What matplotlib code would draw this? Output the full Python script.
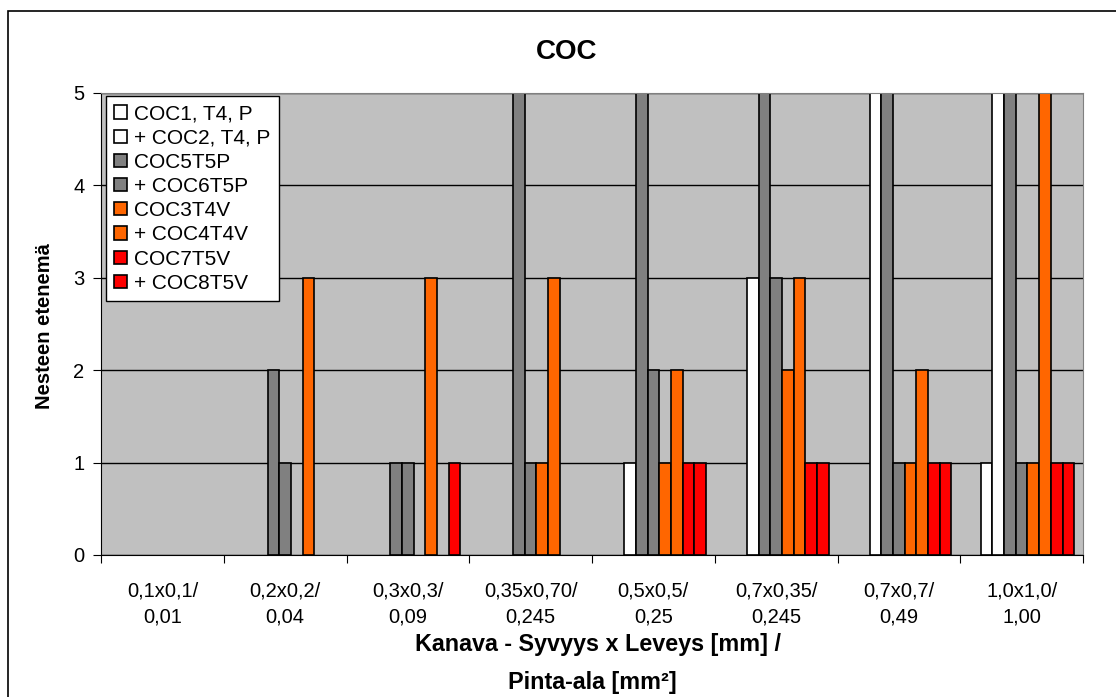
import numpy as np
import matplotlib.pyplot as plt
from matplotlib.patches import Rectangle

plt.rcParams['font.family'] = ['Liberation Sans', 'DejaVu Sans']

categories = ['0,1x0,1/\n0,01', '0,2x0,2/\n0,04', '0,3x0,3/\n0,09', '0,35x0,70/\n0,245',
              '0,5x0,5/\n0,25', '0,7x0,35/\n0,245', '0,7x0,7/\n0,49', '1,0x1,0/\n1,00']

names = ['COC1, T4, P', '+ COC2, T4, P', 'COC5T5P', '+ COC6T5P',
         'COC3T4V', '+ COC4T4V', 'COC7T5V', '+ COC8T5V']

coc1 = [0, 0, 0, 0, 0, 0, 0, 1]
coc2 = [0, 0, 0, 0, 1, 3, 5, 5]
coc5 = [0, 2, 1, 5, 5, 5, 5, 5]
coc6 = [0, 1, 1, 1, 2, 3, 1, 1]
coc3 = [0, 0, 0, 1, 1, 2, 1, 1]
coc4 = [0, 3, 3, 3, 2, 3, 2, 5]
coc7 = [0, 0, 0, 0, 1, 1, 1, 1]
coc8 = [0, 0, 1, 0, 1, 1, 1, 1]

series = [coc1, coc2, coc5, coc6, coc3, coc4, coc7, coc8]
colors = ['#FFFFFF', '#FFFFFF', '#808080', '#808080',
          '#FF6600', '#FF6600', '#FF0000', '#FF0000']

fig = plt.figure(figsize=(11.16, 6.97), dpi=100)
ax = fig.add_axes([101 / 1116, 1 - 555 / 697, 982 / 1116, 462 / 697])
ax.set_facecolor('#C0C0C0')

# nine slots per group (first one empty), gap of 150 %
slot = 1 / (9 + 1.5)
x = np.arange(len(categories))
for j, (vals, name, col) in enumerate(zip(series, names, colors)):
    vals = np.array(vals, dtype=float)
    keep = vals > 0
    pos = x - 0.5 + slot * (j + 2.25)
    ax.bar(pos[keep], vals[keep], width=slot, color=col, edgecolor='black',
           linewidth=1.2, label=name, zorder=2)

ax.set_xlim(-0.5, len(categories) - 0.5)
ax.set_ylim(0, 5)
ax.set_yticks(range(6))
ax.grid(axis='y', color='black', linewidth=1)
ax.set_axisbelow(True)

ax.set_xticks(np.arange(len(categories) + 1) - 0.5)
ax.set_xticklabels([])
ax.set_xticks(x, minor=True)
ax.set_xticklabels(categories, minor=True, fontsize=14.5, linespacing=1.5)
ax.tick_params(axis='x', which='major', direction='out', length=6, color='black')
ax.tick_params(axis='x', which='minor', length=0, pad=19)
ax.tick_params(axis='y', direction='out', length=6, labelsize=14.5, pad=6)

for s in ['top', 'right']:
    ax.spines[s].set_color('#808080')
for s in ['left', 'bottom']:
    ax.spines[s].set_color('black')

fig.text(567 / 1116, 1 - 52 / 697, 'COC', fontsize=20, fontweight='bold',
         ha='center', va='center')
fig.text(45 / 1116, 1 - 326 / 697, 'Nesteen etenemä', fontsize=14.5, fontweight='bold',
         rotation=90, ha='center', va='center')
fig.text(598 / 1116, 1 - 645 / 697, 'Kanava - Syvyys x Leveys [mm] /', fontsize=16.8,
         fontweight='bold', ha='center', va='center')
fig.text(592 / 1116, 1 - 682 / 697, 'Pinta-ala [mm²]', fontsize=16.8,
         fontweight='bold', ha='center', va='center')

leg = ax.legend(loc='upper left', bbox_to_anchor=(106 / 1116, 1 - 96 / 697),
                bbox_transform=fig.transFigure, borderaxespad=0, fontsize=15,
                fancybox=False, framealpha=1, edgecolor='black',
                handlelength=0.6, handleheight=0.6, handletextpad=0.35,
                labelspacing=0.25, borderpad=0.4)
leg.get_frame().set_linewidth(1)

fig.patches.append(Rectangle((8 / 1116, -0.1), 1.2, 1.1 - 11 / 697,
                             transform=fig.transFigure, fill=False,
                             edgecolor='black', linewidth=1.2))

fig.savefig('out.png', dpi=100)
